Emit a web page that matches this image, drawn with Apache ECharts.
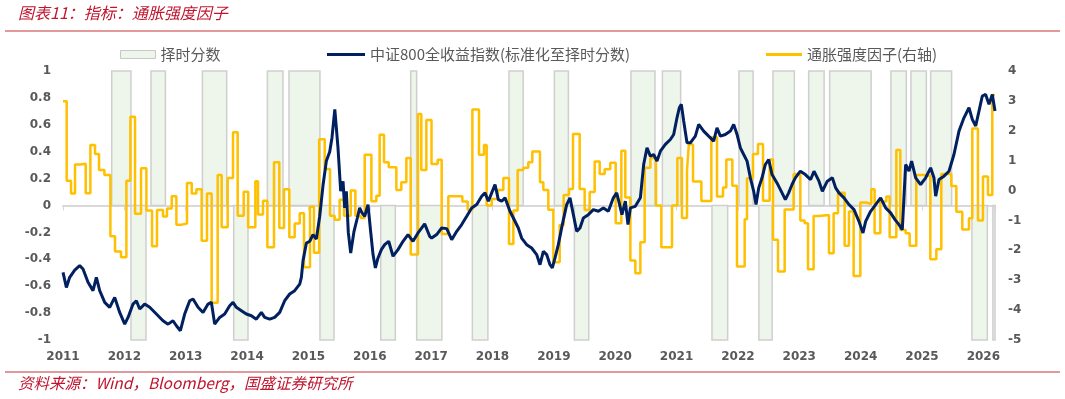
<!DOCTYPE html>
<html>
<head>
<meta charset="utf-8">
<script src="https://cdn.jsdelivr.net/npm/echarts@6/dist/echarts.min.js"></script>
<style>
  html, body { margin: 0; padding: 0; background: #fff; }
  #chart { width: 1065px; height: 399px; }
</style>
</head>
<body>
<div id="chart"></div>
<script>
// 择时分数: start / end (decimal year) and value
const scoreStart = [2011.794, 2012.108, 2012.434, 2013.272, 2013.782, 2014.331, 2014.683, 2015.188, 2016.178, 2016.667,
  2016.764, 2017.672, 2018.269, 2019.008, 2019.334, 2020.257, 2020.769, 2021.577, 2022.017, 2022.341,
  2022.571, 2023.153, 2023.495, 2024.494, 2024.820, 2025.141, 2025.814, 2026.156]
const scoreEnd = [2012.108, 2012.353, 2012.669, 2013.668, 2014.015, 2014.585, 2015.188, 2015.417, 2016.417, 2016.764,
  2017.175, 2017.925, 2018.500, 2019.237, 2019.569, 2020.648, 2021.067, 2021.833, 2022.248, 2022.558,
  2022.920, 2023.405, 2024.171, 2024.745, 2025.071, 2025.483, 2026.065, 2026.190]
const scoreValue = [1, -1, 1, 1, -1, 1, 1, -1, -1, 1,
  -1, -1, 1, 1, -1, 1, 1, -1, 1, -1,
  1, 1, 1, 1, 1, 1, -1, -1]

// 中证800全收益指数(标准化)
const idxYears = [2011.000, 2011.055, 2011.109, 2011.191, 2011.272, 2011.326, 2011.408, 2011.489, 2011.544, 2011.598,
  2011.680, 2011.761, 2011.843, 2011.924, 2012.006, 2012.060, 2012.141, 2012.196, 2012.250, 2012.331,
  2012.413, 2012.522, 2012.630, 2012.712, 2012.793, 2012.848, 2012.913, 2012.983, 2013.065, 2013.119,
  2013.201, 2013.282, 2013.364, 2013.418, 2013.472, 2013.554, 2013.635, 2013.717, 2013.771, 2013.825,
  2013.907, 2013.988, 2014.070, 2014.151, 2014.233, 2014.287, 2014.369, 2014.450, 2014.532, 2014.613,
  2014.695, 2014.776, 2014.858, 2014.885, 2014.912, 2014.966, 2015.021, 2015.075, 2015.129, 2015.184,
  2015.238, 2015.292, 2015.347, 2015.384, 2015.430, 2015.482, 2015.526, 2015.564, 2015.591, 2015.618,
  2015.650, 2015.689, 2015.743, 2015.797, 2015.835, 2015.873, 2015.917, 2015.971, 2016.014, 2016.053,
  2016.091, 2016.134, 2016.189, 2016.243, 2016.308, 2016.379, 2016.460, 2016.542, 2016.623, 2016.704,
  2016.786, 2016.895, 2016.976, 2017.009, 2017.090, 2017.172, 2017.254, 2017.335, 2017.417, 2017.498,
  2017.580, 2017.661, 2017.743, 2017.824, 2017.878, 2017.933, 2017.987, 2018.041, 2018.095, 2018.149,
  2018.204, 2018.285, 2018.340, 2018.421, 2018.475, 2018.557, 2018.638, 2018.720, 2018.774, 2018.829,
  2018.883, 2018.937, 2018.975, 2019.019, 2019.073, 2019.138, 2019.209, 2019.263, 2019.318, 2019.372,
  2019.426, 2019.481, 2019.562, 2019.644, 2019.725, 2019.807, 2019.888, 2019.970, 2020.024, 2020.065,
  2020.110, 2020.165, 2020.208, 2020.247, 2020.328, 2020.410, 2020.464, 2020.518, 2020.573, 2020.627,
  2020.681, 2020.736, 2020.817, 2020.899, 2020.953, 2021.007, 2021.045, 2021.078, 2021.116, 2021.170,
  2021.224, 2021.306, 2021.361, 2021.442, 2021.523, 2021.605, 2021.659, 2021.714, 2021.795, 2021.877,
  2021.931, 2021.986, 2022.040, 2022.094, 2022.149, 2022.203, 2022.257, 2022.295, 2022.339, 2022.393,
  2022.447, 2022.502, 2022.556, 2022.637, 2022.719, 2022.773, 2022.827, 2022.882, 2022.936, 2023.017,
  2023.099, 2023.185, 2023.240, 2023.321, 2023.376, 2023.457, 2023.539, 2023.593, 2023.647, 2023.729,
  2023.810, 2023.892, 2023.973, 2024.038, 2024.082, 2024.163, 2024.245, 2024.326, 2024.408, 2024.489,
  2024.560, 2024.625, 2024.679, 2024.706, 2024.734, 2024.788, 2024.831, 2024.897, 2024.978, 2025.060,
  2025.141, 2025.195, 2025.223, 2025.277, 2025.358, 2025.440, 2025.521, 2025.603, 2025.684, 2025.766,
  2025.820, 2025.875, 2025.929, 2025.983, 2026.037, 2026.092, 2026.146, 2026.190]
const idxValues = [-0.497, -0.609, -0.534, -0.48, -0.447, -0.472, -0.571, -0.633, -0.534, -0.633,
  -0.72, -0.757, -0.683, -0.795, -0.882, -0.832, -0.733, -0.708, -0.77, -0.733,
  -0.757, -0.807, -0.857, -0.882, -0.857, -0.894, -0.931, -0.807, -0.708, -0.695,
  -0.757, -0.795, -0.733, -0.72, -0.882, -0.832, -0.807, -0.745, -0.72, -0.757,
  -0.782, -0.807, -0.82, -0.845, -0.795, -0.832, -0.845, -0.832, -0.795, -0.708,
  -0.658, -0.633, -0.584, -0.534, -0.41, -0.28, -0.266, -0.216, -0.25, -0.08,
  0.15, 0.33, 0.4, 0.504, 0.714, 0.429, 0.106, 0.18, -0.018, 0.106,
  -0.2, -0.353, -0.192, -0.093, -0.018, -0.055, -0.08, 0.007, -0.192, -0.365,
  -0.464, -0.39, -0.328, -0.291, -0.266, -0.377, -0.328, -0.266, -0.216, -0.266,
  -0.204, -0.137, -0.229, -0.242, -0.216, -0.167, -0.172, -0.254, -0.192, -0.142,
  -0.08, -0.018, 0.007, 0.069, 0.094, 0.032, 0.094, 0.156, 0.044, 0.032,
  0.057, -0.043, -0.093, -0.167, -0.242, -0.291, -0.316, -0.365, -0.44, -0.341,
  -0.365, -0.44, -0.464, -0.39, -0.291, -0.142, 0.007, 0.057, -0.068, -0.192,
  -0.167, -0.093, -0.068, -0.031, -0.043, -0.018, -0.043, 0.057, 0.094, 0.02,
  -0.068, 0.032, -0.142, -0.018, -0.006, 0.057, 0.305, 0.429, 0.367, 0.379,
  0.33, 0.404, 0.454, 0.491, 0.528, 0.652, 0.727, 0.752, 0.628, 0.466,
  0.466, 0.516, 0.603, 0.553, 0.516, 0.479, 0.578, 0.516, 0.528, 0.553,
  0.603, 0.528, 0.429, 0.379, 0.33, 0.206, 0.106, 0.007, 0.131, 0.206,
  0.305, 0.342, 0.23, 0.168, 0.094, 0.044, 0.094, 0.156, 0.206, 0.255,
  0.23, 0.193, 0.255, 0.181, 0.106, 0.181, 0.206, 0.131, 0.094, 0.057,
  0.007, -0.031, -0.118, -0.204, -0.118, -0.043, 0.007, 0.057, -0.018, -0.055,
  -0.105, -0.142, -0.18, 0.057, 0.305, 0.255, 0.33, 0.206, 0.156, 0.206,
  0.28, 0.206, 0.069, 0.193, 0.218, 0.255, 0.379, 0.553, 0.652, 0.727,
  0.64, 0.591, 0.702, 0.814, 0.826, 0.752, 0.826, 0.702]

// 通胀强度因子 (right axis): step start dates and values
const factorYears = [2011.000, 2011.060, 2011.131, 2011.196, 2011.283, 2011.370, 2011.446, 2011.522, 2011.587, 2011.674,
  2011.772, 2011.848, 2011.946, 2012.033, 2012.098, 2012.174, 2012.272, 2012.359, 2012.451, 2012.532,
  2012.630, 2012.695, 2012.772, 2012.848, 2012.935, 2013.021, 2013.098, 2013.174, 2013.260, 2013.347,
  2013.423, 2013.521, 2013.586, 2013.684, 2013.771, 2013.847, 2013.945, 2014.018, 2014.135, 2014.178,
  2014.260, 2014.331, 2014.439, 2014.526, 2014.602, 2014.689, 2014.776, 2014.858, 2014.928, 2015.026,
  2015.090, 2015.175, 2015.265, 2015.352, 2015.428, 2015.509, 2015.580, 2015.689, 2015.765, 2015.852,
  2015.917, 2016.026, 2016.107, 2016.161, 2016.232, 2016.308, 2016.433, 2016.514, 2016.596, 2016.667,
  2016.786, 2016.840, 2016.922, 2017.006, 2017.107, 2017.172, 2017.280, 2017.509, 2017.596, 2017.672,
  2017.780, 2017.862, 2017.905, 2017.987, 2018.084, 2018.177, 2018.269, 2018.340, 2018.410, 2018.503,
  2018.584, 2018.649, 2018.774, 2018.829, 2018.910, 2018.992, 2019.095, 2019.160, 2019.247, 2019.312,
  2019.421, 2019.502, 2019.584, 2019.665, 2019.747, 2019.828, 2019.920, 2020.008, 2020.100, 2020.165,
  2020.247, 2020.328, 2020.410, 2020.480, 2020.573, 2020.665, 2020.752, 2020.926, 2021.013, 2021.088,
  2021.170, 2021.200, 2021.268, 2021.404, 2021.567, 2021.659, 2021.757, 2021.811, 2021.909, 2021.985,
  2022.110, 2022.148, 2022.246, 2022.327, 2022.409, 2022.517, 2022.572, 2022.653, 2022.762, 2022.908,
  2023.017, 2023.088, 2023.142, 2023.234, 2023.321, 2023.484, 2023.560, 2023.631, 2023.739, 2023.810,
  2023.886, 2023.995, 2024.093, 2024.174, 2024.228, 2024.321, 2024.419, 2024.473, 2024.582, 2024.647,
  2024.734, 2024.799, 2024.907, 2025.081, 2025.136, 2025.234, 2025.315, 2025.478, 2025.560, 2025.657,
  2025.766, 2025.820, 2025.912, 2025.994, 2026.075, 2026.146, 2026.190]
const factorValues = [2.99, 0.33, -0.1, 0.87, 0.9, -0.09, 1.52, 1.22, 0.69, 0.52,
  -1.53, -2.04, -2.23, 0.33, 2.47, -0.78, 0.75, -0.67, -1.86, -0.65,
  -0.87, -0.6, -0.19, -1.14, -1.1, 0.25, -0.1, 0.04, -1.68, -0.1,
  -3.75, 0.52, -1.23, 0.42, 1.95, -0.84, -0.04, -1.23, 0.31, -0.8,
  -0.34, -1.9, 0.95, -1.25, 0.04, -1.56, -1.1, -0.76, -2.57, -0.54,
  -2.08, 1.72, 0.72, -0.84, -0.98, -0.31, -0.84, 0.0, -0.84, -0.92,
  1.2, -0.36, -0.17, 1.87, 0.95, 0.78, 0.02, 0.28, 1.09, -2.14,
  2.56, 0.69, 2.36, 0.89, 1.03, -1.45, -0.19, -0.37, -0.64, 2.71,
  1.2, 1.52, -0.5, -0.28, 0.02, 0.42, -1.79, -0.67, 0.69, 0.76,
  0.95, 1.31, 0.28, 0.02, -0.64, -2.4, -1.15, -0.15, 0.05, 1.89,
  0.05, -0.65, -0.05, 0.97, 0.55, 0.71, 0.93, -1.09, 1.33, -0.23,
  -2.34, -2.77, -1.73, 0.76, 1.09, -0.5, -1.9, -0.5, 1.09, -0.92,
  0.67, 1.54, 0.3, -0.35, 1.78, -0.2, 0.1, 1.04, 0.16, -2.54,
  -0.96, 0.41, 1.22, 1.56, -0.34, 1.04, -1.65, -2.71, -0.63, 0.55,
  -1.0, -1.09, -2.63, -0.85, -0.82, -2.1, -0.76, -0.07, -1.85, -0.7,
  -2.86, -0.4, -0.45, 0.04, -1.43, -0.37, -0.2, -1.56, 1.36, -1.32,
  -1.43, -1.85, 0.52, 0.48, -2.3, -1.96, 0.55, 0.15, -0.71, -1.3,
  -0.93, 2.08, -1.0, 0.47, -0.15, 3.2, 3.2]

const X_MIN = 2011
const X_MAX = 2026.19

const chart = echarts.init(document.getElementById('chart'))

const labelFont = {
    color: '#595959',
    fontFamily: 'DejaVu Sans',
    fontWeight: 'bold',
    fontSize: 12,
}

const option = {
    animation: false,
    backgroundColor: '#ffffff',
    grid: { left: 63, right: 70, top: 71, bottom: 59 },
    graphic: [
        {
            type: 'text', left: 18, top: 5,
            style: {
                text: '图表11：指标：通胀强度因子',
                fill: '#c0152f',
                font: 'italic 16px "Noto Sans CJK SC"',
            },
        },
        {
            type: 'line', shape: { x1: 5, y1: 31, x2: 1060, y2: 31 },
            style: { stroke: '#d7777b', lineWidth: 1.5 },
        },
        {
            type: 'line', shape: { x1: 5, y1: 372, x2: 1060, y2: 372 },
            style: { stroke: '#d7777b', lineWidth: 1.5 },
        },
        {
            type: 'text', left: 18, top: 375,
            style: {
                text: '资料来源：Wind，Bloomberg，国盛证券研究所',
                fill: '#c0152f',
                font: 'italic 15.5px "Noto Sans CJK SC"',
            },
        },
    ],
    legend: [
        {
            left: 115, top: 42, itemWidth: 35, itemHeight: 8,
            textStyle: { color: '#595959', fontSize: 15, fontFamily: 'Noto Sans CJK SC' },
            data: [{ name: '择时分数', icon: 'rect', itemStyle: { color: '#eef5ea', borderColor: '#c8c8c8', borderWidth: 1 } }],
        },
        {
            left: 322, top: 42, itemWidth: 38, itemHeight: 3,
            textStyle: { color: '#595959', fontSize: 15, fontFamily: 'Noto Sans CJK SC' },
            data: [{ name: '中证800全收益指数(标准化至择时分数)', icon: 'rect' }],
        },
        {
            left: 761, top: 42, itemWidth: 36, itemHeight: 3,
            textStyle: { color: '#595959', fontSize: 15, fontFamily: 'Noto Sans CJK SC' },
            data: [{ name: '通胀强度因子(右轴)', icon: 'rect' }],
        },
    ],
    xAxis: [
        {
            type: 'value', position: 'bottom',
            min: X_MIN, max: X_MAX, interval: 1,
            axisLine: { show: false },
            axisTick: { show: false },
            splitLine: { show: false },
            axisLabel: { ...labelFont, margin: 11, formatter: v => String(Math.round(v)) },
        },
        {
            type: 'value', position: 'top',
            min: X_MIN, max: X_MAX, interval: 1,
            axisLine: { show: true, onZero: true, onZeroAxisIndex: 0, lineStyle: { color: '#d9d9d9', width: 2 } },
            axisTick: { show: true, inside: true, length: 5, lineStyle: { color: '#d9d9d9', width: 1 } },
            splitLine: { show: false },
            axisLabel: { show: false },
        },
    ],
    yAxis: [
        {
            type: 'value', min: -1, max: 1, interval: 0.2,
            axisLine: { show: false }, axisTick: { show: false },
            splitLine: { show: false },
            axisLabel: { ...labelFont, margin: 12, formatter: v => String(+v.toFixed(1)) },
        },
        {
            type: 'value', min: -5, max: 4, interval: 1,
            axisLine: { show: false }, axisTick: { show: false },
            splitLine: { show: false },
            axisLabel: { ...labelFont, margin: 13 },
        },
    ],
    series: [
        {
            name: '择时分数',
            type: 'custom',
            xAxisIndex: 0, yAxisIndex: 0,
            z: 1,
            itemStyle: { color: '#eef5ea' },
            encode: { x: [0, 1], y: 2 },
            data: scoreStart.map((s, i) => [s, scoreEnd[i], scoreValue[i]]),
            renderItem: (params, api) => {
                const p0 = api.coord([api.value(0), api.value(2)])
                const p1 = api.coord([api.value(1), 0])
                return {
                    type: 'rect',
                    shape: {
                        x: p0[0], y: Math.min(p0[1], p1[1]),
                        width: p1[0] - p0[0], height: Math.abs(p1[1] - p0[1]),
                    },
                    style: { fill: '#eef5ea', stroke: '#cfcfcf', lineWidth: 1.5 },
                }
            },
        },
        {
            name: '通胀强度因子(右轴)',
            type: 'line',
            xAxisIndex: 0, yAxisIndex: 1,
            step: 'end',
            showSymbol: false,
            z: 3,
            color: '#ffc000',
            lineStyle: { color: '#ffc000', width: 2.5 },
            data: factorYears.map((x, i) => [x, factorValues[i]]),
        },
        {
            name: '中证800全收益指数(标准化至择时分数)',
            type: 'line',
            xAxisIndex: 0, yAxisIndex: 0,
            showSymbol: false,
            z: 4,
            color: '#002060',
            lineStyle: { color: '#002060', width: 3 },
            data: idxYears.map((x, i) => [x, idxValues[i]]),
        },
    ],
}

chart.setOption(option)
</script>
</body>
</html>
